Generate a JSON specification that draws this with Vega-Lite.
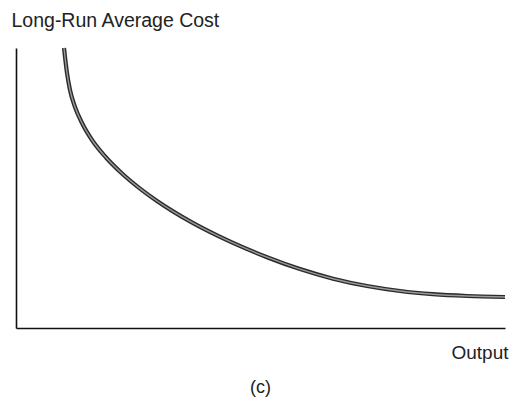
{
  "$schema": "https://vega.github.io/schema/vega-lite/v6.json",
  "autosize": "none",
  "width": 489,
  "height": 280,
  "padding": {"left": 16, "top": 48, "right": 7, "bottom": 77},
  "background": "white",
  "config": {"view": {"stroke": null}, "font": "Liberation Sans"},
  "title": {"text": "(c)", "orient": "bottom", "anchor": "middle", "frame": "group", "fontSize": 18, "fontWeight": "normal", "color": "#222", "offset": 17, "font": "Liberation Sans"},
  "data": {"values": [
    {"output": 48, "cost": 280},
    {"output": 51, "cost": 255},
    {"output": 54, "cost": 238},
    {"output": 59, "cost": 221},
    {"output": 66, "cost": 205},
    {"output": 76, "cost": 188},
    {"output": 90, "cost": 170.5},
    {"output": 106, "cost": 154.5},
    {"output": 124, "cost": 139.4},
    {"output": 141, "cost": 127},
    {"output": 157, "cost": 116.6},
    {"output": 174, "cost": 106.6},
    {"output": 201, "cost": 92.6},
    {"output": 217, "cost": 85.1},
    {"output": 251, "cost": 70.8},
    {"output": 284, "cost": 58.9},
    {"output": 317, "cost": 49.3},
    {"output": 351, "cost": 42},
    {"output": 384, "cost": 37},
    {"output": 417, "cost": 33.8},
    {"output": 451, "cost": 32},
    {"output": 489, "cost": 31}
  ]},
  "encoding": {
    "x": {"field": "output", "type": "quantitative", "scale": {"domain": [0, 489], "nice": false, "zero": false},
      "axis": {"title": "Output", "ticks": false, "labels": false, "grid": false, "domainColor": "#111", "domainWidth": 1.6,
        "titleX": 492, "titleY": 30, "titleAlign": "right", "titleBaseline": "alphabetic", "titleFontSize": 19, "titleFontWeight": "normal", "titleColor": "#222", "titleFont": "Liberation Sans"}},
    "y": {"field": "cost", "type": "quantitative", "scale": {"domain": [0, 280], "nice": false, "zero": false},
      "axis": {"title": "Long-Run Average Cost", "ticks": false, "labels": false, "grid": false, "domainColor": "#111", "domainWidth": 1.6,
        "titleAngle": 0, "titleX": -5, "titleY": -22, "titleAlign": "left", "titleBaseline": "alphabetic", "titleFontSize": 19.5, "titleFontWeight": "normal", "titleColor": "#222", "titleFont": "Liberation Sans"}}
  },
  "layer": [
    {"mark": {"type": "line", "interpolate": "monotone", "stroke": "#2b2b2b", "strokeWidth": 4.2, "strokeCap": "butt"}},
    {"mark": {"type": "line", "interpolate": "monotone", "stroke": "#9a9a9a", "strokeWidth": 1.4, "strokeCap": "butt"}}
  ]
}
